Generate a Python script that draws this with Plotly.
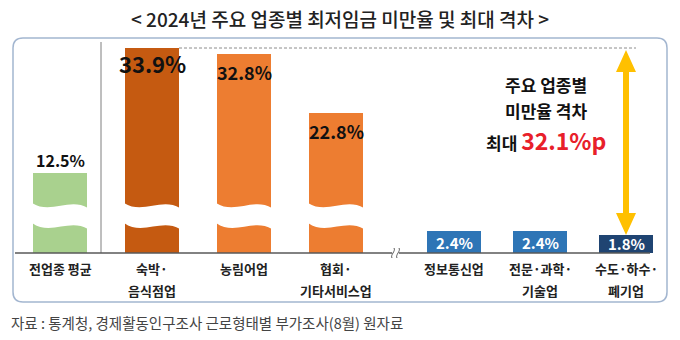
import plotly.graph_objects as go

# ---------------- data ----------------
categories = ["전업종 평균", "숙박·\n음식점업", "농림어업", "협회·\n기타서비스업",
              "정보통신업", "전문·과학·\n기술업", "수도·하수·\n폐기업"]
rates = [12.5, 33.9, 32.8, 22.8, 2.4, 2.4, 1.8]
bar_colors = ["#a9d18e", "#c55a11", "#ed7d31", "#ed7d31", "#2e75b6", "#2e75b6", "#1f4472"]
title_text = "< 2024년 주요 업종별 최저임금 미만율 및 최대 격차 >"
source_text = "자료 : 통계청, 경제활동인구조사 근로형태별 부가조사(8월) 원자료"
gap_lines = ["주요 업종별", "미만율 격차"]
gap_prefix = "최대"

# ---------------- layout helpers ----------------
W, H = 680, 340
BASE_PX = 253          # pixel row of the baseline
TOP_PX = 48            # pixel row of the tallest bar
FLOOR = -1.3           # truncated (broken) axis floor
AVG_INDEX = 0
BREAK_MIN = 10
FONT = "Noto Sans CJK KR"
ymax = max(rates)
ymin_i = rates.index(min(rates))
ymax_i = rates.index(ymax)


def py(p):  # pixel row -> paper y
    return (BASE_PX - p) / (BASE_PX - TOP_PX)


def px(p):  # pixel column -> paper x
    return p / W


def vp(v):  # data value -> paper y
    return (v - FLOOR) / (ymax - FLOOR)


def vpx(v):  # data value -> pixel row
    return BASE_PX - (BASE_PX - TOP_PX) * vp(v)


centers = [60 + 92 * i for i in range(4)] + [454 + 86 * j for j in range(3)]
BAR_W = 54

fig = go.Figure(go.Bar(
    x=centers, y=[r - FLOOR for r in rates], base=FLOOR, width=BAR_W,
    marker=dict(color=bar_colors, line=dict(width=0)),
    customdata=rates, hovertemplate="%{customdata}%<extra></extra>",
))

shapes = []
ann = []

# frame (rounded rectangle)
x0, x1, yt, yb, r = 13, 667, 38, 302, 10
def P(x, y):
    return f"{px(x)},{py(y)}"
frame = (f"M {P(x0+r, yt)} L {P(x1-r, yt)} Q {P(x1, yt)} {P(x1, yt+r)} "
         f"L {P(x1, yb-r)} Q {P(x1, yb)} {P(x1-r, yb)} L {P(x0+r, yb)} "
         f"Q {P(x0, yb)} {P(x0, yb-r)} L {P(x0, yt+r)} Q {P(x0, yt)} {P(x0+r, yt)} Z")
shapes.append(dict(type="path", path=frame, xref="paper", yref="paper",
                   line=dict(color="#a3b6d0", width=1.5), layer="below"))

# break bands on tall bars
for c, v in zip(centers, rates):
    if v > BREAK_MIN:
        xl, xr = c - BAR_W / 2 - 1, c + BAR_W / 2 + 1
        w = xr - xl
        path = (f"M {P(xl, 203)} C {P(xl + w/3, 215)} {P(xl + 2*w/3, 197)} {P(xr, 208)} "
                f"L {P(xr, 229)} C {P(xl + 2*w/3, 218)} {P(xl + w/3, 236)} {P(xl, 223)} Z")
        shapes.append(dict(type="path", path=path, xref="paper", yref="paper",
                           fillcolor="white", line=dict(width=0)))

# separator line and baseline
shapes.append(dict(type="line", xref="paper", yref="paper", x0=px(101), x1=px(101),
                   y0=py(42), y1=py(BASE_PX), line=dict(color="#7f7f7f", width=1)))
shapes.append(dict(type="line", xref="paper", yref="paper", x0=px(15), x1=px(650),
                   y0=py(BASE_PX), y1=py(BASE_PX), line=dict(color="#595959", width=1.5)))
# axis break mark
shapes.append(dict(type="rect", xref="paper", yref="paper", x0=px(392), x1=px(399),
                   y0=py(250), y1=py(256), fillcolor="white", line=dict(width=0)))
for bx in (393, 398):
    shapes.append(dict(type="path", xref="paper", yref="paper",
                       path=f"M {P(bx+1, 248)} C {P(bx+3, 251)} {P(bx-3, 255)} {P(bx-1, 258)}",
                       line=dict(color="#595959", width=1)))

# dashed reference line from the tallest bar
shapes.append(dict(type="line", xref="paper", yref="paper",
                   x0=px(centers[ymax_i] + BAR_W / 2), x1=px(636),
                   y0=vp(ymax), y1=vp(ymax),
                   line=dict(color="#8c8c8c", width=1, dash="3px,2px")))

# double-headed arrow (max -> min)
ax = centers[ymin_i]
top_px, bot_px = vpx(ymax) + 2, vpx(min(rates))
HEAD, HW, SW = 22, 10, 3
arrow = (f"M {P(ax, top_px)} L {P(ax+HW, top_px+HEAD)} L {P(ax+SW, top_px+HEAD)} "
         f"L {P(ax+SW, bot_px-HEAD)} L {P(ax+HW, bot_px-HEAD)} L {P(ax, bot_px)} "
         f"L {P(ax-HW, bot_px-HEAD)} L {P(ax-SW, bot_px-HEAD)} L {P(ax-SW, top_px+HEAD)} "
         f"L {P(ax-HW, top_px+HEAD)} Z")
shapes.append(dict(type="path", path=arrow, xref="paper", yref="paper",
                   fillcolor="#ffc000", line=dict(width=0)))

# value labels
for i, (c, v) in enumerate(zip(centers, rates)):
    t = f"{v}%"
    if i == AVG_INDEX:
        ann.append(dict(x=c, y=v, xref="x", yref="y", text=t, showarrow=False,
                        xanchor="center", yanchor="bottom", yshift=-1,
                        font=dict(family=FONT, size=16, color="#111", weight=700)))
    elif v > BREAK_MIN:
        big = (i == ymax_i)
        ann.append(dict(x=c, y=v, xref="x", yref="y", text=t, showarrow=False,
                        xanchor="center", yanchor="top", yshift=3 if big else -3,
                        font=dict(family=FONT, size=22 if big else 18, color="#111", weight=700)))
    else:
        ann.append(dict(x=c, y=(v + FLOOR) / 2, xref="x", yref="y", text=t, showarrow=False,
                        xanchor="center", yanchor="middle",
                        font=dict(family=FONT, size=15, color="white", weight=700)))

# category labels
for c, lab in zip(centers, categories):
    for k, line in enumerate(lab.split("\n")):
        ann.append(dict(x=px(c), y=py(268 + 22 * k), xref="paper", yref="paper", text=line,
                        showarrow=False, xanchor="center", yanchor="middle",
                        font=dict(family=FONT, size=13, color="#222", weight=700)))

# gap text block
for k, line in enumerate(gap_lines):
    ann.append(dict(x=px(546), y=py(84 + 26 * k), xref="paper", yref="paper", text=line,
                    showarrow=False, xanchor="center", yanchor="middle",
                    font=dict(family=FONT, size=17, color="#111", weight=700)))
gap = max(rates) - min(rates)
ann.append(dict(x=px(546), y=py(140), xref="paper", yref="paper",
                text=f"{gap_prefix} <span style='color:#e8202a;font-size:23px'>{gap:.1f}%p</span>",
                showarrow=False, xanchor="center", yanchor="middle",
                font=dict(family=FONT, size=17, color="#111", weight=700)))

# title and source
ann.append(dict(x=0.5, y=py(18), xref="paper", yref="paper", text=title_text, showarrow=False,
                xanchor="center", yanchor="middle",
                font=dict(family=FONT, size=19, color="#222", weight=500)))
ann.append(dict(x=px(9), y=py(322), xref="paper", yref="paper", text=source_text,
                showarrow=False, xanchor="left", yanchor="middle",
                font=dict(family=FONT, size=14.5, color="#444")))

fig.update_layout(
    width=W, height=H, autosize=False,
    margin=dict(l=0, r=0, t=TOP_PX, b=H - BASE_PX, pad=0),
    paper_bgcolor="white", plot_bgcolor="white", showlegend=False,
    xaxis=dict(range=[0, W], visible=False, fixedrange=True),
    yaxis=dict(range=[FLOOR, ymax], visible=False, fixedrange=True),
    shapes=shapes, annotations=ann, bargap=0,
)

fig.write_html("out.html")
